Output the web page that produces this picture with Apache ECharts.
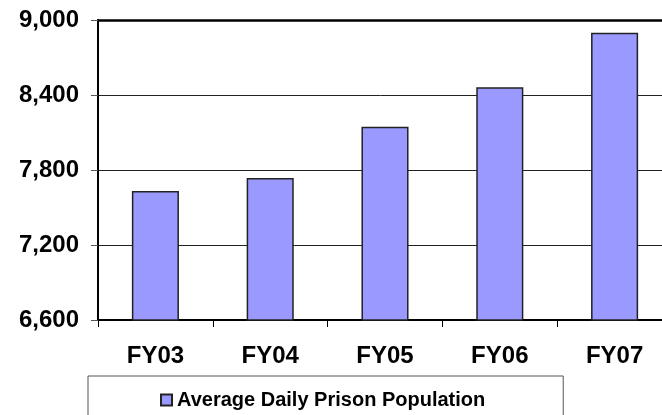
<!DOCTYPE html>
<html>
<head>
<meta charset="utf-8">
<script src="https://cdn.jsdelivr.net/npm/echarts@6/dist/echarts.min.js"></script>
<style>
  html, body { margin: 0; padding: 0; background: #fff; }
  #chart { width: 662px; height: 415px; }
</style>
</head>
<body>
<div id="chart"></div>
<script>
const categories = ["FY03", "FY04", "FY05", "FY06", "FY07"]
const population = [7632, 7736, 8147, 8462, 8898]
const seriesName = "Average Daily Prison Population"
const yMin = 6600
const yMax = 9000
const yStep = 600

const font = "'Liberation Sans', Arial, sans-serif"

let option = {
  animation: false,
  grid: {
    left: 98,
    top: 20,
    width: 574, // plot runs past the right edge of the picture
    height: 300,
    outerBoundsMode: "none"
  },
  legend: {
    data: [seriesName],
    left: 88,
    top: 376,
    padding: [14, 78, 30, 72],
    borderColor: "#555",
    borderWidth: 1,
    icon: "rect",
    itemWidth: 11,
    itemHeight: 11,
    itemGap: 6,
    textStyle: {
      color: "#000",
      fontFamily: font,
      fontWeight: "bold",
      fontSize: 20
    }
  },
  xAxis: [
    {
      type: "category",
      data: categories,
      axisLine: {
        lineStyle: { color: "#000", width: 2 }
      },
      axisTick: {
        show: true,
        length: 7,
        lineStyle: { color: "#000", width: 1 }
      },
      axisLabel: {
        margin: 24,
        color: "#000",
        fontFamily: font,
        fontWeight: "bold",
        fontSize: 24
      }
    },
    {
      // top border of the plot
      type: "category",
      position: "top",
      data: categories,
      axisLine: { lineStyle: { color: "#000", width: 2.5 } },
      axisTick: { show: false },
      axisLabel: { show: false }
    }
  ],
  yAxis: {
    type: "value",
    min: yMin,
    max: yMax,
    interval: yStep,
    axisLine: {
      show: true,
      lineStyle: { color: "#000", width: 2 }
    },
    axisTick: {
      show: true,
      length: 7,
      lineStyle: { color: "#555", width: 1 }
    },
    splitLine: {
      show: true,
      lineStyle: { color: "#222", width: 1 }
    },
    axisLabel: {
      margin: 19,
      color: "#000",
      fontFamily: font,
      fontWeight: "bold",
      fontSize: 24,
      formatter: v => v.toLocaleString("en-US")
    }
  },
  series: [
    {
      name: seriesName,
      type: "bar",
      barWidth: "41%",
      itemStyle: {
        color: "#9999ff",
        borderColor: "#222",
        borderWidth: 1.5
      },
      data: population
    }
  ]
}

let chartEl = echarts.init(document.getElementById("chart"))
chartEl.setOption(option)
window.addEventListener("resize", () => chartEl.resize())
</script>
</body>
</html>
